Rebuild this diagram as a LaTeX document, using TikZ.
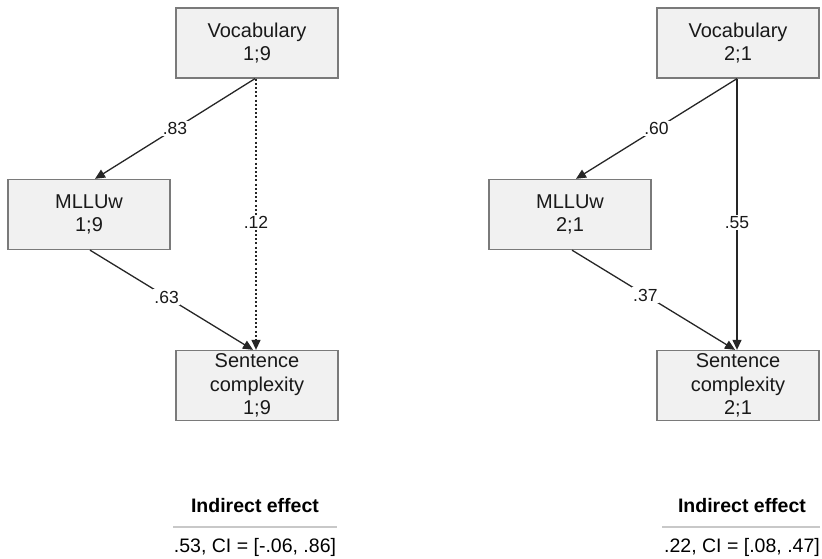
\documentclass[tikz,border=0pt]{standalone}
\usepackage{fontspec}
\setmainfont{Liberation Sans}
\usetikzlibrary{arrows.meta}
\definecolor{boxfill}{HTML}{F1F1F1}
\definecolor{boxline}{HTML}{7A7A7A}
\definecolor{arr}{HTML}{262626}
\definecolor{sep}{HTML}{C8C8C8}
\tikzset{
  varbox/.style={draw=boxline, line width=1.3pt, fill=boxfill, minimum width=162pt, minimum height=70pt, align=center, inner sep=0pt, font=\fontsize{20}{23.5}\selectfont, text=black!90},
  path/.style={draw=arr, line width=1.3pt, -{Triangle[length=10pt,width=9pt]}},
  dotpath/.style={path, dash pattern=on 2pt off 2.2pt},
  coef/.style={fill=white, inner sep=1.5pt, font=\fontsize{17.5}{20}\selectfont, text=black!90},
  headtxt/.style={font=\fontsize{19.5}{22}\selectfont\bfseries},
  valtxt/.style={font=\fontsize{19.5}{22}\selectfont},
  sepline/.style={draw=sep, line width=1.2pt}
}
\begin{document}
\begin{tikzpicture}[x=1pt,y=1pt]
\useasboundingbox (0,0) rectangle (822,559);
% left panel
\node[varbox] (vL) at (257,516) {Vocabulary\\1;9};
\node[varbox] (mL) at (89,344.5) {MLLUw\\1;9};
\node[varbox] (sL) at (257,173.5) {Sentence\\complexity\\1;9};
\draw[path] ([xshift=-2pt]vL.south) -- node[coef, pos=0.5] {.83} ([xshift=6pt]mL.north);
\draw[dotpath] ([xshift=-1pt]vL.south) -- node[coef, pos=0.53] {.12} ([xshift=-1pt]sL.north);
\draw[path] ([xshift=1pt]mL.south) -- node[coef, pos=0.47] {.63} ([xshift=-4pt]sL.north);
\node[headtxt] (hL) at (255,53) {Indirect effect};
\coordinate (aL) at (173,32);
\coordinate (bL) at (337,32);
\draw[sepline] (aL) -- (bL);
\node[valtxt] (eL) at (255,12) {.53, CI = [-.06, .86]};
% right panel
\node[varbox] (vR) at (738,516) {Vocabulary\\2;1};
\node[varbox] (mR) at (570,344.5) {MLLUw\\2;1};
\node[varbox] (sR) at (738,173.5) {Sentence\\complexity\\2;1};
\draw[path] ([xshift=-1pt]vR.south) -- node[coef, pos=0.5] {.60} ([xshift=6pt]mR.north);
\draw[path] ([xshift=-1pt]vR.south) -- node[coef, pos=0.53] {.55} ([xshift=-1pt]sR.north);
\draw[path] ([xshift=2pt]mR.south) -- node[coef, pos=0.45] {.37} ([xshift=-3pt]sR.north);
\node[headtxt] (hR) at (742,53) {Indirect effect};
\coordinate (aR) at (662,32);
\coordinate (bR) at (820,32);
\draw[sepline] (aR) -- (bR);
\node[valtxt] (eR) at (742,12) {.22, CI = [.08, .47]};
\end{tikzpicture}
\end{document}
